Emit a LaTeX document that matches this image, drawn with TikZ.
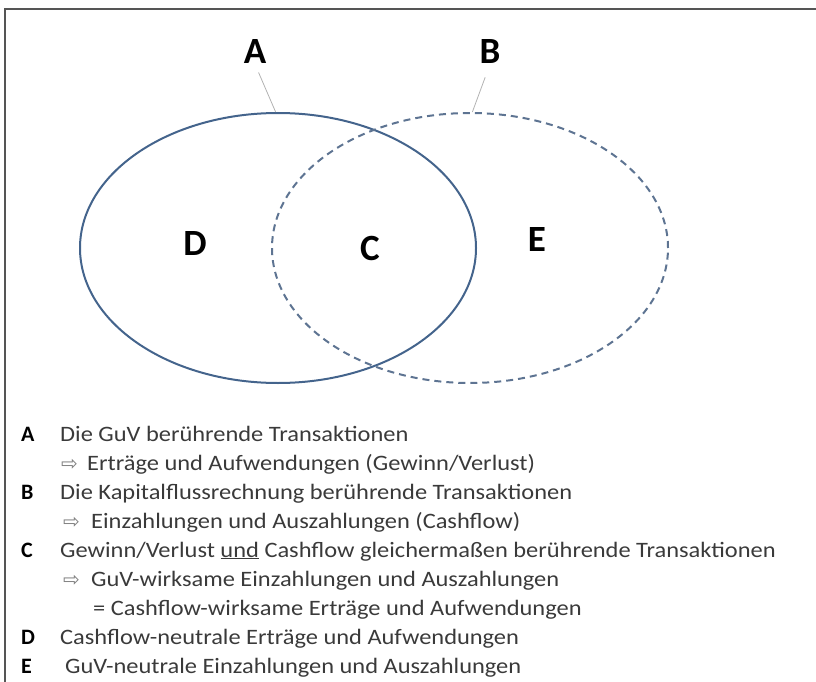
\documentclass[tikz,border=0pt]{standalone}
\usepackage{fontspec}
\setmainfont{Carlito}
\newfontfamily\arrowfont{DejaVu Sans}
\usetikzlibrary{shapes.geometric}
\definecolor{setblue}{HTML}{44648C}
\definecolor{setgray}{HTML}{5E7492}
\definecolor{txtgray}{HTML}{3A3A3A}
\definecolor{framegray}{HTML}{555555}
\newcommand{\wide}[1]{\scalebox{1.11}[1]{#1}}
\tikzset{
  frameline/.style={draw=framegray, line width=1.5pt},
  setsolid/.style={ellipse, draw=setblue, line width=2pt, minimum width=396pt, minimum height=270pt, inner sep=0pt},
  setdashed/.style={ellipse, draw=setgray, line width=2pt, dash pattern=on 7pt off 5pt, minimum width=396pt, minimum height=270pt, inner sep=0pt},
  biglab/.style={font=\fontsize{37}{40}\selectfont\bfseries, text=black, inner sep=0pt},
  leader/.style={draw=gray!60, line width=0.8pt},
  keylab/.style={font=\fontsize{22}{26}\selectfont\bfseries, text=black, anchor=base west, inner sep=0pt},
  listtxt/.style={font=\fontsize{22}{26}\selectfont, text=txtgray, anchor=base west, inner sep=0pt},
  arr/.style={font=\arrowfont\fontsize{20}{24}\selectfont, text=gray, anchor=base west, inner sep=0pt}
}
\begin{document}
\begin{tikzpicture}[x=1pt,y=-1pt]
\useasboundingbox (0,0) rectangle (816,682);
\coordinate (fbl) at (5,682);
\coordinate (ftl) at (5,9);
\coordinate (ftr) at (816,9);
\draw[frameline] (fbl) -- (ftl) -- (ftr);
% sets
\node[setsolid] (setA) at (278,248) {};
\node[setdashed] (setB) at (470,248) {};
% big labels
\node[biglab] (labA) at (255,52) {A};
\node[biglab] (labB) at (490,52) {B};
\draw[leader, shorten <=9pt] (labA.south) -- (setA.91);
\draw[leader, shorten <=14pt] (labB.south) -- (setB.89);
\node[biglab] (labD) at (195,244) {D};
\node[biglab] (labC) at (370,248) {C};
\node[biglab] (labE) at (537,240) {E};
% list
\node[keylab] (kA) at (21,441) {A};
\node[listtxt] (tA) at (60,441) {\wide{Die GuV berührende Transaktionen}};
\node[arr] (aA) at (61,470) {⇨};
\node[listtxt] (tA2) at (87,470) {\wide{Erträge und Aufwendungen (Gewinn/Verlust)}};
\node[keylab] (kB) at (21,499) {B};
\node[listtxt] (tB) at (60,499) {\wide{Die Kapitalflussrechnung berührende Transaktionen}};
\node[arr] (aB) at (63,528) {⇨};
\node[listtxt] (tB2) at (91,528) {\wide{Einzahlungen und Auszahlungen (Cashflow)}};
\node[keylab] (kC) at (21,557) {C};
\node[listtxt] (tC) at (60,557) {\wide{Gewinn/Verlust \underline{und} Cashflow gleichermaßen berührende Transaktionen}};
\node[arr] (aC) at (63,586) {⇨};
\node[listtxt] (tC2) at (91,586) {\wide{GuV-wirksame Einzahlungen und Auszahlungen}};
\node[listtxt] (tC3) at (93,615) {\wide{= Cashflow-wirksame Erträge und Aufwendungen}};
\node[keylab] (kD) at (21,644) {D};
\node[listtxt] (tD) at (60,644) {\wide{Cashflow-neutrale Erträge und Aufwendungen}};
\node[keylab] (kE) at (21,673) {E};
\node[listtxt] (tE) at (65,673) {\wide{GuV-neutrale Einzahlungen und Auszahlungen}};
\end{tikzpicture}
\end{document}
